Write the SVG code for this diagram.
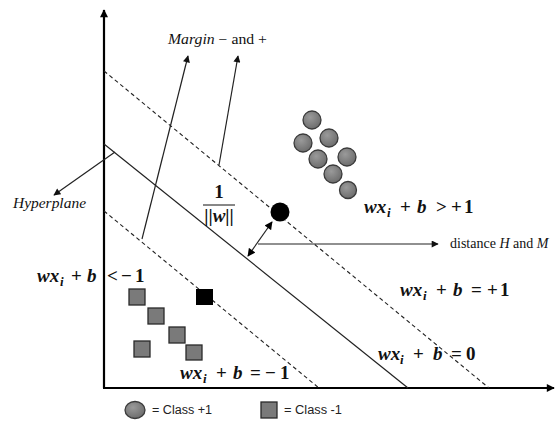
<svg xmlns="http://www.w3.org/2000/svg" width="557" height="421" viewBox="0 0 557 421">
<style>
.axis{stroke:#000;stroke-width:2.2;fill:none}
.ln{stroke:#222;stroke-width:1.2;fill:none}
.dash{stroke:#222;stroke-width:1.1;fill:none;stroke-dasharray:4 3}
.eq{font-family:"Liberation Serif","DejaVu Serif",serif;font-weight:bold;font-size:19px;fill:#111}
.it{font-style:italic}
.sub{font-size:13px}
.lbl{font-family:"Liberation Serif","DejaVu Serif",serif;font-size:14px;fill:#111}
.leg{font-family:"Liberation Sans","Noto Sans",sans-serif;font-size:12px;fill:#222}
.pos{fill:url(#g);stroke:#3a3a3a;stroke-width:1.3}
.neg{fill:#7a7a7a;stroke:#2a2a2a;stroke-width:1.3}
</style>
<defs>
<radialGradient id="g" cx="0.4" cy="0.35" r="0.7">
<stop offset="0" stop-color="#9a9a9a"/><stop offset="1" stop-color="#6a6a6a"/>
</radialGradient>
<marker id="ah" viewBox="0 0 10 10" refX="9" refY="5" markerWidth="8" markerHeight="7" markerUnits="userSpaceOnUse" orient="auto-start-reverse">
<path d="M0,0 L10,5 L0,10 z" fill="#111"/>
</marker>
<marker id="ahb" viewBox="0 0 10 10" refX="9" refY="5" markerWidth="9" markerHeight="8" markerUnits="userSpaceOnUse" orient="auto-start-reverse">
<path d="M0,0 L10,5 L0,10 z" fill="#000"/>
</marker>
</defs>
<rect width="557" height="421" fill="#fff"/>
<g id="axes">
<line class="axis" x1="104" y1="388" x2="104" y2="10" marker-end="url(#ahb)"/>
<line class="axis" x1="103" y1="388" x2="554" y2="388" marker-end="url(#ahb)"/>
</g>
<g id="connectors">
<line class="dash" x1="104" y1="71" x2="489" y2="388"/>
<line class="ln" x1="104" y1="144" x2="408" y2="388"/>
<line class="dash" x1="104" y1="211" x2="319" y2="388"/>
<line class="ln" x1="142" y1="239" x2="188" y2="56" marker-end="url(#ah)"/>
<line class="ln" x1="219" y1="165" x2="238" y2="56" marker-end="url(#ah)"/>
<line class="ln" x1="115" y1="152" x2="54" y2="195" marker-end="url(#ah)"/>
<line class="ln" x1="258" y1="244" x2="438" y2="244" marker-end="url(#ah)"/>
<line class="ln" x1="272" y1="222" x2="248" y2="256" stroke-width="1.8" marker-start="url(#ahb)" marker-end="url(#ahb)"/>
</g>
<g id="class-pos">
<circle class="pos" cx="312" cy="120" r="9"/>
<circle class="pos" cx="329" cy="138" r="9"/>
<circle class="pos" cx="303" cy="143" r="9"/>
<circle class="pos" cx="318" cy="159" r="9"/>
<circle class="pos" cx="347" cy="157" r="9"/>
<circle class="pos" cx="333" cy="174" r="9"/>
<circle class="pos" cx="348" cy="190" r="8.5"/>
<circle cx="280" cy="212" r="9.5" fill="#000"/>
</g>
<g id="class-neg">
<rect class="neg" x="129" y="289" width="16" height="16"/>
<rect class="neg" x="148" y="308" width="16" height="16"/>
<rect class="neg" x="169" y="327" width="16" height="16"/>
<rect class="neg" x="134" y="341" width="16" height="16"/>
<rect class="neg" x="186" y="345" width="16" height="15"/>
<rect x="196" y="289" width="17" height="16" fill="#000"/>
</g>
<g id="labels">
<text class="lbl" x="168" y="44" textLength="99" lengthAdjust="spacingAndGlyphs"><tspan class="it">Margin</tspan> − and +</text>
<text class="lbl it" x="13" y="208" textLength="73" lengthAdjust="spacingAndGlyphs">Hyperplane</text>
<text class="lbl" x="450" y="248" font-size="13">distance <tspan class="it">H</tspan> and <tspan class="it">M</tspan></text>
<text class="eq" x="219" y="198" text-anchor="middle" font-size="15">1</text>
<line x1="203" y1="205" x2="235" y2="205" stroke="#111" stroke-width="1"/>
<text class="eq" x="219" y="222" text-anchor="middle" font-size="15">||<tspan class="it">w</tspan>||</text>
<text class="eq" y="213"><tspan class="it" x="364">wx</tspan><tspan class="it sub" x="387" dy="4">i</tspan><tspan x="400" dy="-4">+</tspan><tspan class="it" x="417">b</tspan><tspan x="436">&gt;</tspan><tspan x="451">+</tspan><tspan x="464">1</tspan></text>
<text class="eq" y="296"><tspan class="it" x="400">wx</tspan><tspan class="it sub" x="423" dy="4">i</tspan><tspan x="436" dy="-4">+</tspan><tspan class="it" x="453">b</tspan><tspan x="471">=</tspan><tspan x="487">+</tspan><tspan x="500">1</tspan></text>
<text class="eq" y="360"><tspan class="it" x="378">wx</tspan><tspan class="it sub" x="400" dy="4">i</tspan><tspan x="413" dy="-4">+</tspan><tspan class="it" x="433">b</tspan><tspan x="451">=</tspan><tspan x="466">0</tspan></text>
<text class="eq" y="379"><tspan class="it" x="180">wx</tspan><tspan class="it sub" x="203" dy="4">i</tspan><tspan x="216" dy="-4">+</tspan><tspan class="it" x="233">b</tspan><tspan x="250">=</tspan><tspan x="265">−</tspan><tspan x="280">1</tspan></text>
<text class="eq" y="282"><tspan class="it" x="37">wx</tspan><tspan class="it sub" x="60" dy="4">i</tspan><tspan x="71" dy="-4">+</tspan><tspan class="it" x="87">b</tspan><tspan x="107">&lt;</tspan><tspan x="121">−</tspan><tspan x="135">1</tspan></text>
</g>
<g id="legend">
<ellipse class="pos" cx="135" cy="410" rx="10" ry="8.5"/>
<text class="leg" x="152" y="414" textLength="60" lengthAdjust="spacingAndGlyphs">= Class +1</text>
<rect class="neg" x="261" y="402" width="16" height="16"/>
<text class="leg" x="284" y="414" textLength="58" lengthAdjust="spacingAndGlyphs">= Class -1</text>
</g>
</svg>
